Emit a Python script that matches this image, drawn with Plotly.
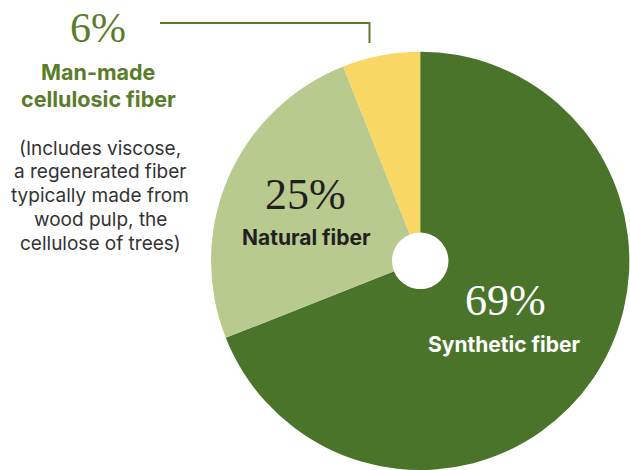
import plotly.graph_objects as go

W, H = 630, 470

labels = ["Synthetic fiber", "Natural fiber", "Man-made cellulosic fiber"]
values = [69, 25, 6]
colors = ["#4a7429", "#b8ca8e", "#f9d764"]

note_lines = ["(Includes viscose,", "a regenerated fiber", "typically made from",
              "wood pulp, the", "cellulose of trees)"]

GREEN_TXT = "#5a7d2a"
SERIF = "Liberation Serif"
SANS = "Inter"


def px(x):
    return x / W


def py(y):
    return 1 - y / H


fig = go.Figure()
fig.add_trace(go.Pie(
    labels=labels, values=values, sort=False, direction="clockwise", rotation=0,
    hole=0.135, marker=dict(colors=colors, line=dict(width=0)),
    textinfo="none", hoverinfo="label+percent", showlegend=False,
    domain=dict(x=[0.334, 1.0], y=[0.0, 0.89]),
))

ann = []


def add(text, x, y, size, color, family, bold=False):
    t = f"<b>{text}</b>" if bold else text
    ann.append(dict(text=t, x=px(x), y=py(y), xref="paper", yref="paper",
                    xanchor="center", yanchor="middle", showarrow=False,
                    font=dict(size=size, color=color, family=family)))


# Man-made cellulosic fiber (left callout)
add(f"{values[2]}%", 98, 28, 42, GREEN_TXT, SERIF)
add("Man-made", 98, 72, 21.5, GREEN_TXT, SANS, True)
add("cellulosic fiber", 98, 99, 21.5, GREEN_TXT, SANS, True)
for i, line in enumerate(note_lines):
    add(line, 100, 148 + i * 23.8, 19, "#333333", SANS)

# Natural fiber
add(f"{values[1]}%", 305, 194, 44, "#231f20", SERIF)
add(labels[1], 306, 237, 21, "#231f20", SANS, True)

# Synthetic fiber
add(f"{values[0]}%", 505, 300, 44, "#ffffff", SERIF)
add(labels[0], 504, 344, 21, "#ffffff", SANS, True)

fig.update_layout(
    width=W, height=H, margin=dict(l=0, r=0, t=0, b=0),
    paper_bgcolor="white", plot_bgcolor="white",
    annotations=ann,
    shapes=[
        dict(type="line", xref="paper", yref="paper", x0=px(160), x1=px(370),
             y0=py(23), y1=py(23), line=dict(color="#5a7d2e", width=2)),
        dict(type="line", xref="paper", yref="paper", x0=px(369.5), x1=px(369.5),
             y0=py(22), y1=py(43), line=dict(color="#5a7d2e", width=2)),
    ],
)

fig.write_html("out.html")
